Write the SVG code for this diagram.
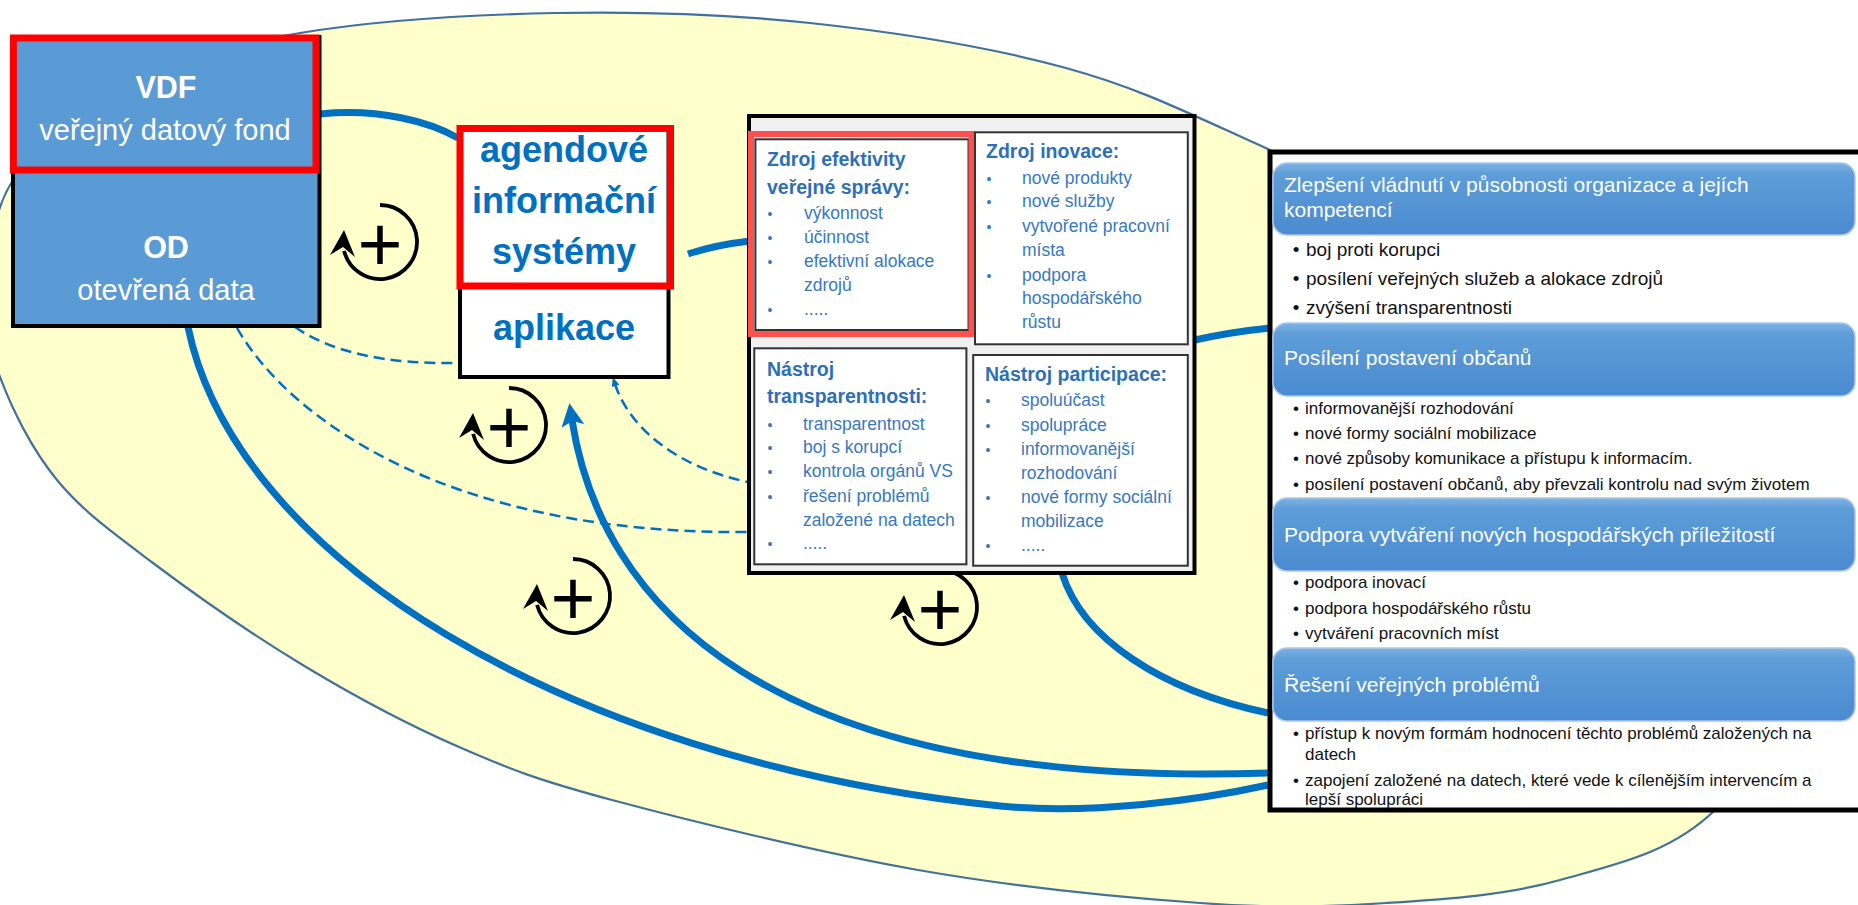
<svg xmlns="http://www.w3.org/2000/svg" width="1858" height="905" viewBox="0 0 1858 905">
<defs>
<style>
.f{font-family:"Liberation Sans",Arial,sans-serif}
.thick{fill:none;stroke:#0070C0;stroke-width:7}
.dash{fill:none;stroke:#0070C0;stroke-width:2.5;stroke-dasharray:11 6}
.lt{font-family:"Liberation Sans",Arial,sans-serif;fill:#fff;text-anchor:middle}
.ais{font-family:"Liberation Sans",Arial,sans-serif;font-weight:bold;font-size:36px;fill:#0070C0;text-anchor:middle}
.mt{font-family:"Liberation Sans",Arial,sans-serif;font-weight:bold;font-size:19.5px;fill:#2E6FB7}
.mi{font-family:"Liberation Sans",Arial,sans-serif;font-size:17.5px;fill:#3778BE}
.mb{font-family:"Liberation Sans",Arial,sans-serif;font-size:14px;fill:#3778BE;text-anchor:middle}
.inner{fill:#fff;stroke:#333;stroke-width:2}
.bar{fill:url(#barGrad);stroke:#A9C8EA;stroke-width:1.5}
.hd{font-family:"Liberation Sans",Arial,sans-serif;font-size:21px;fill:#fff}
.r1{font-family:"Liberation Sans",Arial,sans-serif;font-size:19px;fill:#111}
.r2{font-family:"Liberation Sans",Arial,sans-serif;font-size:17px;fill:#111}
.rb1{font-family:"Liberation Sans",Arial,sans-serif;font-size:19px;fill:#111;text-anchor:middle}
.rb2{font-family:"Liberation Sans",Arial,sans-serif;font-size:17px;fill:#111;text-anchor:middle}
</style>
<linearGradient id="barGrad" x1="0" y1="0" x2="0" y2="1">
<stop offset="0" stop-color="#80B3E4"/>
<stop offset="0.15" stop-color="#5E9DD8"/>
<stop offset="1" stop-color="#4A8BD0"/>
</linearGradient>
<marker id="arrowBlue" viewBox="0 0 24 23" markerWidth="24" markerHeight="23" refX="6" refY="11.5" orient="auto" markerUnits="userSpaceOnUse">
<path d="M0,0 L23,11.5 L0,23 L5,11.5 Z" fill="#0070C0"/>
</marker>
<marker id="arrowSmall" viewBox="0 0 9 8" markerWidth="9" markerHeight="8" refX="2" refY="4" orient="auto-start-reverse" markerUnits="userSpaceOnUse">
<path d="M0,0 L9,4 L0,8 Z" fill="#0070C0"/>
</marker>
<g id="loop">
<path d="M0,-37 A37,37 0 1 1 -35.9,8.9" fill="none" stroke="#000" stroke-width="3.8"/>
<path d="M-36,-12 L-50,13 L-37,5 L-25,15 Z" fill="#000"/>
<text x="0" y="28.5" text-anchor="middle" font-size="77" class="f" fill="#000">+</text>
</g>
</defs>

<rect width="1858" height="905" fill="#fff"/>
<path id="background" fill="#FFFFCC" stroke="#41719C" stroke-width="2.2" d="M-13,292 C-10.83,259.17 -9.17,214.5 13,180 C35.17,145.5 72.17,109.5 120,85 C167.83,60.5 227.5,45 300,33 C372.5,21 470,14.67 555,13 C640,11.33 724.83,13.83 810,23 C895.17,32.17 989.33,46.83 1066,68 C1142.67,89.17 1187.67,113 1270,150 C1352.33,187 1467.5,211.67 1560,290 C1652.5,368.33 1799.17,533.33 1825,620 C1850.83,706.67 1759.17,766.67 1715,810 C1670.83,853.33 1614.83,864.5 1560,880 C1505.17,895.5 1446,899.17 1386,903 C1326,906.83 1278,908.5 1200,903 C1122,897.5 1016,887.17 918,870 C820,852.83 688.5,820.5 612,800 C535.5,779.5 510,769.17 459,747 C408,724.83 357,697.67 306,667 C255,636.33 194.5,594.17 153,563 C111.5,531.83 82.5,511 57,480 C31.5,449 11.67,408.33 0,377 C-11.67,345.67 -15.17,324.83 -13,292 Z"/>

<g id="connectors">
<path class="thick" d="M320,114 C380,108 430,122 458,138"/>
<path class="thick" d="M688,254 Q715,245 750,241"/>
<path class="thick" d="M1190,341 Q1230,332 1270,328"/>
<path class="thick" d="M1062,573 C1082,638 1160,690 1268,713"/>
<path class="thick" d="M188,327 C235,555 560,760 1000,806 C1090,815 1200,800 1268,785"/>
<path class="thick" d="M1268,773 C760,790 600,600 572,420" marker-end="url(#arrowBlue)"/>
<path class="dash" d="M295,327 Q350,365 458,363"/>
<path class="dash" d="M237,328 C290,420 450,535 748,532"/>
<path class="dash" d="M615,384 C630,430 680,468 748,482" marker-start="url(#arrowSmall)"/>
</g>

<g id="loops">
<use href="#loop" x="380" y="242"/>
<use href="#loop" x="509" y="425"/>
<use href="#loop" x="573" y="596"/>
<use href="#loop" x="940" y="607"/>
</g>

<g id="vdf-od">
<rect x="13" y="37" width="306.5" height="289" fill="#5B9BD5" stroke="#000" stroke-width="4"/>
<rect x="13.4" y="38" width="302.6" height="132" fill="none" stroke="#FF0000" stroke-width="7"/>
<text class="lt" x="166" y="98" font-size="30.5" font-weight="bold">VDF</text>
<text class="lt" x="165" y="140" font-size="29">veřejný datový fond</text>
<text class="lt" x="166" y="258" font-size="30.5" font-weight="bold">OD</text>
<text class="lt" x="166" y="300" font-size="29">otevřená data</text>
</g>

<g id="ais-aplikace">
<rect x="460" y="130" width="208.5" height="247" fill="#fff" stroke="#000" stroke-width="4"/>
<rect x="460" y="128.5" width="210.5" height="157.5" fill="none" stroke="#FF0000" stroke-width="7"/>
<text class="ais" x="564" y="162">agendové</text>
<text class="ais" x="564" y="213">informační</text>
<text class="ais" x="564" y="264">systémy</text>
<text class="ais" x="564" y="340">aplikace</text>
</g>

<g id="prinosy">
<rect x="749" y="116" width="445.5" height="457" fill="#F0F0F0" stroke="#000" stroke-width="4"/>
<rect class="inner" x="755.4" y="139.3" width="213.1" height="190.7"/>
<rect x="751" y="134" width="220.5" height="200" fill="none" stroke="#FF5050" stroke-width="6"/>
<rect class="inner" x="975" y="132.3" width="212.8" height="212"/>
<rect class="inner" x="754.3" y="348.3" width="212.1" height="216"/>
<rect class="inner" x="973.2" y="355" width="214.6" height="210.7"/>

<text class="mt" x="767" y="166">Zdroj efektivity</text>
<text class="mt" x="767" y="194">veřejné správy:</text>
<text class="mb" x="770" y="219">•</text><text class="mi" x="804" y="219">výkonnost</text>
<text class="mb" x="770" y="243">•</text><text class="mi" x="804" y="243">účinnost</text>
<text class="mb" x="770" y="267">•</text><text class="mi" x="804" y="267">efektivní alokace</text>
<text class="mi" x="804" y="291">zdrojů</text>
<text class="mb" x="770" y="315">•</text><text class="mi" x="804" y="315">.....</text>

<text class="mt" x="986" y="158">Zdroj inovace:</text>
<text class="mb" x="989" y="184">•</text><text class="mi" x="1022" y="184">nové produkty</text>
<text class="mb" x="989" y="207">•</text><text class="mi" x="1022" y="207">nové služby</text>
<text class="mb" x="989" y="232">•</text><text class="mi" x="1022" y="232">vytvořené pracovní</text>
<text class="mi" x="1022" y="256">místa</text>
<text class="mb" x="989" y="281">•</text><text class="mi" x="1022" y="281">podpora</text>
<text class="mi" x="1022" y="304">hospodářského</text>
<text class="mi" x="1022" y="328">růstu</text>

<text class="mt" x="767" y="376">Nástroj</text>
<text class="mt" x="767" y="403">transparentnosti:</text>
<text class="mb" x="770" y="430">•</text><text class="mi" x="803" y="430">transparentnost</text>
<text class="mb" x="770" y="453">•</text><text class="mi" x="803" y="453">boj s korupcí</text>
<text class="mb" x="770" y="477">•</text><text class="mi" x="803" y="477">kontrola orgánů VS</text>
<text class="mb" x="770" y="502">•</text><text class="mi" x="803" y="502">řešení problémů</text>
<text class="mi" x="803" y="526">založené na datech</text>
<text class="mb" x="770" y="549">•</text><text class="mi" x="803" y="549">.....</text>

<text class="mt" x="985" y="381">Nástroj participace:</text>
<text class="mb" x="988" y="406">•</text><text class="mi" x="1021" y="406">spoluúčast</text>
<text class="mb" x="988" y="431">•</text><text class="mi" x="1021" y="431">spolupráce</text>
<text class="mb" x="988" y="455">•</text><text class="mi" x="1021" y="455">informovanější</text>
<text class="mi" x="1021" y="479">rozhodování</text>
<text class="mb" x="988" y="503">•</text><text class="mi" x="1021" y="503">nové formy sociální</text>
<text class="mi" x="1021" y="527">mobilizace</text>
<text class="mb" x="988" y="551">•</text><text class="mi" x="1021" y="551">.....</text>
</g>

<g id="oblasti">
<rect x="1270" y="152" width="600" height="658" fill="#fff" stroke="#000" stroke-width="5"/>

<rect class="bar" x="1273" y="163" width="582" height="72" rx="14"/>
<text class="hd" x="1284" y="192">Zlepšení vládnutí v působnosti organizace a jejích</text>
<text class="hd" x="1284" y="217">kompetencí</text>
<text class="rb1" x="1296" y="256">•</text><text class="r1" x="1306" y="256">boj proti korupci</text>
<text class="rb1" x="1296" y="285">•</text><text class="r1" x="1306" y="285">posílení veřejných služeb a alokace zdrojů</text>
<text class="rb1" x="1296" y="314">•</text><text class="r1" x="1306" y="314">zvýšení transparentnosti</text>

<rect class="bar" x="1273" y="323" width="582" height="73" rx="14"/>
<text class="hd" x="1284" y="365">Posílení postavení občanů</text>
<text class="rb2" x="1296" y="414">•</text><text class="r2" x="1305" y="414">informovanější rozhodování</text>
<text class="rb2" x="1296" y="439">•</text><text class="r2" x="1305" y="439">nové formy sociální mobilizace</text>
<text class="rb2" x="1296" y="464">•</text><text class="r2" x="1305" y="464">nové způsoby komunikace a přístupu k informacím.</text>
<text class="rb2" x="1296" y="490">•</text><text class="r2" x="1305" y="490">posílení postavení občanů, aby převzali kontrolu nad svým životem</text>

<rect class="bar" x="1273" y="498" width="582" height="73" rx="14"/>
<text class="hd" x="1284" y="542">Podpora vytváření nových hospodářských příležitostí</text>
<text class="rb2" x="1296" y="588">•</text><text class="r2" x="1305" y="588">podpora inovací</text>
<text class="rb2" x="1296" y="614">•</text><text class="r2" x="1305" y="614">podpora hospodářského růstu</text>
<text class="rb2" x="1296" y="639">•</text><text class="r2" x="1305" y="639">vytváření pracovních míst</text>

<rect class="bar" x="1273" y="648" width="582" height="73" rx="14"/>
<text class="hd" x="1284" y="692">Řešení veřejných problémů</text>
<text class="rb2" x="1296" y="739">•</text><text class="r2" x="1305" y="739">přístup k novým formám hodnocení těchto problémů založených na</text>
<text class="r2" x="1305" y="760">datech</text>
<text class="rb2" x="1296" y="786">•</text><text class="r2" x="1305" y="786">zapojení založené na datech, které vede k cílenějším intervencím a</text>
<text class="r2" x="1305" y="805">lepší spolupráci</text>
</g>
</svg>
